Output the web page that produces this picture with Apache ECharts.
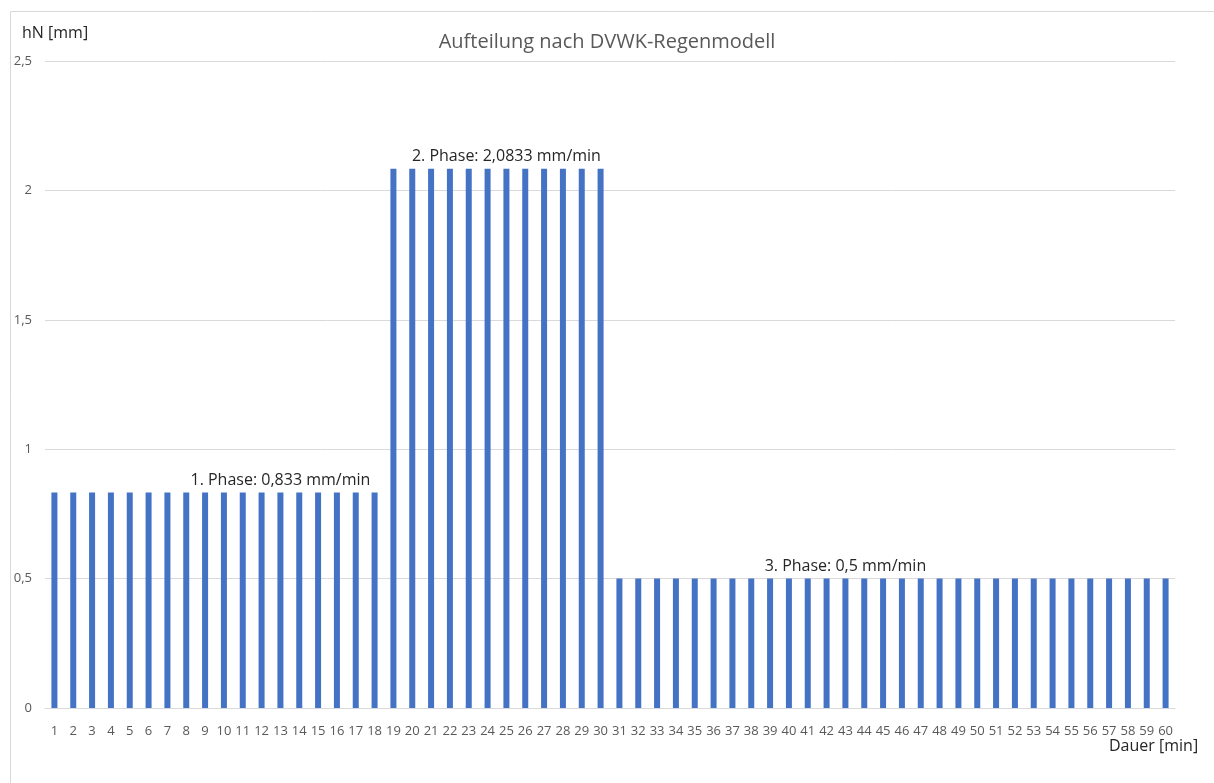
<!DOCTYPE html>
<html>
<head>
<meta charset="utf-8">
<script src="https://cdn.jsdelivr.net/npm/echarts@6/dist/echarts.min.js"></script>
<style>
  html, body { margin: 0; padding: 0; background: #fff; }
  #myChart { width: 1214px; height: 783px; }
</style>
</head>
<body>
<div id="myChart"></div>
<script>
// Minuten (Kategorien)
var minutes = [
  "1","2","3","4","5","6","7","8","9","10","11","12","13","14","15","16","17","18","19","20",
  "21","22","23","24","25","26","27","28","29","30","31","32","33","34","35","36","37","38","39","40",
  "41","42","43","44","45","46","47","48","49","50","51","52","53","54","55","56","57","58","59","60"
];
// Niederschlagshöhe je Minute [mm]
var hN = [
  0.833,0.833,0.833,0.833,0.833,0.833,0.833,0.833,0.833,0.833,0.833,0.833,0.833,0.833,0.833,0.833,0.833,0.833,
  2.0833,2.0833,2.0833,2.0833,2.0833,2.0833,2.0833,2.0833,2.0833,2.0833,2.0833,2.0833,
  0.5,0.5,0.5,0.5,0.5,0.5,0.5,0.5,0.5,0.5,0.5,0.5,0.5,0.5,0.5,
  0.5,0.5,0.5,0.5,0.5,0.5,0.5,0.5,0.5,0.5,0.5,0.5,0.5,0.5,0.5
];
// Beschriftung der Phasen (an Minute ...)
var phaseAt = ["13", "25", "43"];
var phaseText = ["1. Phase: 0,833 mm/min", "2. Phase: 2,0833 mm/min", "3. Phase: 0,5 mm/min"];
var yTicks = ["0", "0,5", "1", "1,5", "2", "2,5"];

var barData = hN.map(function (v, i) {
  var k = phaseAt.indexOf(minutes[i]);
  if (k < 0) return v;
  return {
    value: v,
    label: {
      show: true,
      position: "top",
      distance: 4,
      formatter: phaseText[k],
      color: "#262626",
      fontSize: 16,
      fontFamily: "Open Sans"
    }
  };
});

var myChart = echarts.init(document.getElementById("myChart"));
myChart.setOption({
  animation: false,
  backgroundColor: "#fff",
  textStyle: { fontFamily: "Open Sans" },
  title: {
    text: "Aufteilung nach DVWK-Regenmodell",
    left: "center",
    top: 27,
    textStyle: { color: "#595959", fontSize: 20, fontWeight: "normal", fontFamily: "Open Sans" }
  },
  graphic: [
    {
      type: "rect",
      shape: { x: 10.5, y: 11.5, width: 1220, height: 800 },
      style: { fill: "none", stroke: "#d9d9d9", lineWidth: 1 },
      silent: true
    },
    {
      type: "text",
      left: 22,
      top: 25,
      style: { text: "hN [mm]", fill: "#262626", fontSize: 16, fontFamily: "Open Sans" }
    },
    {
      type: "text",
      left: 1109,
      top: 738,
      style: { text: "Dauer [min]", fill: "#262626", fontSize: 16, fontFamily: "Open Sans" }
    }
  ],
  grid: { left: 45, right: 39, top: 61, bottom: 75, containLabel: false },
  xAxis: {
    type: "category",
    data: minutes,
    axisLine: { lineStyle: { color: "#d9d9d9" } },
    axisTick: { show: false },
    axisLabel: { color: "#595959", fontSize: 13, interval: 0, margin: 17 }
  },
  yAxis: {
    type: "value",
    min: 0,
    max: 2.5,
    interval: 0.5,
    axisLine: { show: false },
    axisTick: { show: false },
    splitLine: { lineStyle: { color: "#d9d9d9" } },
    axisLabel: {
      color: "#595959",
      fontSize: 13,
      margin: 13,
      formatter: function (v) { return yTicks[Math.round(v * 2)]; }
    }
  },
  series: [{
    type: "bar",
    data: barData,
    barWidth: 6,
    itemStyle: { color: "#4472c4" }
  }]
});
</script>
</body>
</html>
